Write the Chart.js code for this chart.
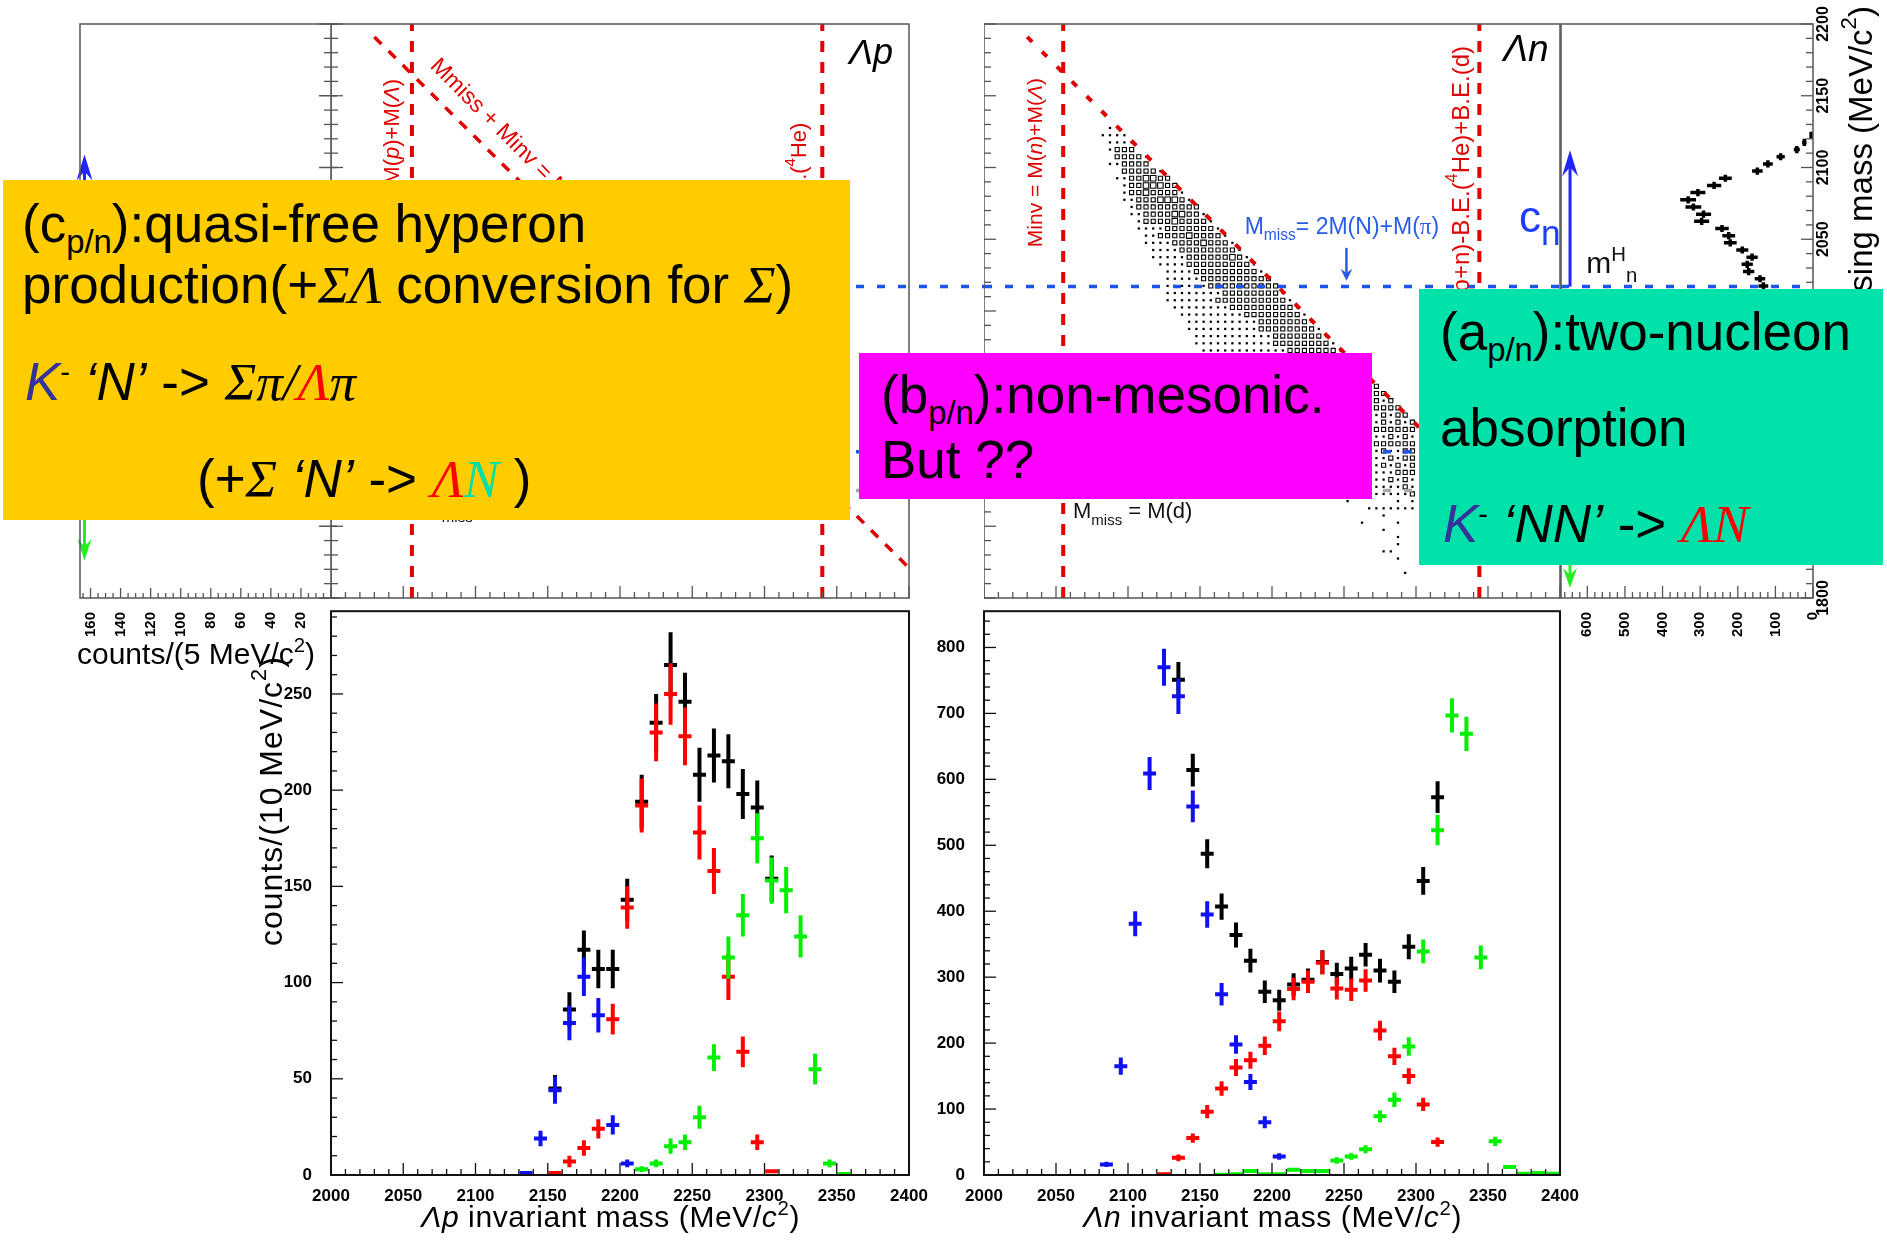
<!DOCTYPE html>
<html>
<head>
<meta charset="utf-8">
<title>Lambda-p / Lambda-n invariant mass</title>
<script src="https://cdn.jsdelivr.net/npm/chart.js@4.4.1/dist/chart.umd.min.js"></script>
<style>
  html, body { margin: 0; background: #fff; }
  #page { position: relative; width: 1887px; height: 1240px; overflow: hidden; background: #fff; }
  .pane { position: absolute; }
  .pane canvas { display: block; }
  .box { position: absolute; }
  .ln { position: absolute; font-family: "Liberation Sans", Arial, sans-serif; font-size: 53px; line-height: 53px; white-space: pre; color: #000; }
  .ln sub { font-size: 0.62em; vertical-align: -11px; line-height: 0; }
  .ln sup { font-size: 0.55em; vertical-align: 18px; line-height: 0; }
  .gk { font-family: "Liberation Serif", "Times New Roman", serif; font-style: italic; }
  .kk { font-style: italic; color: #333399; }
  .it { font-style: italic; }
</style>
</head>
<body>
<div id="page">
  <div class="pane" style="left:0;top:0"><canvas id="cProjL" width="345" height="690"></canvas></div>
  <div class="pane" style="left:331px;top:0"><canvas id="cScatP" width="653" height="600"></canvas></div>
  <div class="pane" style="left:984px;top:0"><canvas id="cScatN" width="577" height="600"></canvas></div>
  <div class="pane" style="left:1548px;top:0"><canvas id="cProjR" width="339" height="690"></canvas></div>
  <div class="pane" style="left:200px;top:590px"><canvas id="cLp" width="740" height="650"></canvas></div>
  <div class="pane" style="left:920px;top:590px"><canvas id="cLn" width="670" height="650"></canvas></div>

  <div class="box" style="left:3px;top:180px;width:847px;height:340px;background:#ffcc00"></div>
  <div class="ln" style="left:22px;top:197px">(c<sub>p/n</sub>):quasi-free hyperon</div>
  <div class="ln" style="left:22px;top:258px">production(+<span class="gk">ΣΛ</span> conversion for <span class="gk">Σ</span>)</div>
  <div class="ln" style="left:25px;top:355px"><span class="kk">K</span><sup>-</sup> <span class="it">‘N’</span> -&gt; <span class="gk">Σπ/<span style="color:#ff0000">Λ</span>π</span></div>
  <div class="ln" style="left:197px;top:452px">(+<span class="gk">Σ</span> <span class="it">‘N’</span> -&gt; <span class="gk" style="color:#ff0000">Λ</span><span class="gk" style="color:#00e0a8">N</span> )</div>

  <div class="box" style="left:859px;top:353px;width:513px;height:146px;background:#ff00ff"></div>
  <div class="ln" style="left:881px;top:368px">(b<sub>p/n</sub>):non-mesonic.</div>
  <div class="ln" style="left:881px;top:433px">But ??</div>

  <div class="box" style="left:1419px;top:289px;width:464px;height:276px;background:#00e2aa"></div>
  <div class="ln" style="left:1440px;top:305px">(a<sub>p/n</sub>):two-nucleon</div>
  <div class="ln" style="left:1440px;top:401px">absorption</div>
  <div class="ln" style="left:1443px;top:497px"><span class="kk">K</span><sup>-</sup> <span class="it">‘NN’</span> -&gt; <span class="gk" style="color:#ff0000">ΛN</span></div>
</div>

<script>
// ---------------- Λp invariant mass, counts / 10 MeV ----------------
const lpTotM = [2155, 2165, 2175, 2185, 2195, 2205, 2215, 2225, 2235, 2245, 2255, 2265, 2275, 2285, 2295, 2305];
const lpTotN = [45, 86, 117, 107, 107, 143, 194, 235, 265, 246, 208, 218, 215, 198, 191, 154];
const lpTotE = [7, 9, 10, 10, 10, 11, 14, 15, 17, 15, 14, 14, 14, 13, 14, 12];
const lpRedM = [2155, 2165, 2175, 2185, 2195, 2205, 2215, 2225, 2235, 2245, 2255, 2265, 2275, 2285, 2295, 2305];
const lpRedN = [1, 7, 14, 24, 81, 139, 192, 230, 250, 228, 178, 158, 103, 64, 17, 2];
const lpRedE = [1, 3, 4, 5, 8, 11, 14, 15, 16, 15, 14, 12, 12, 8, 4, 1];
const lpBluM = [2135, 2145, 2155, 2165, 2175, 2185, 2195, 2205];
const lpBluN = [1, 19, 44, 79, 103, 83, 26, 6];
const lpBluE = [1, 4, 7, 9, 10, 9, 5, 2];
const lpGrnM = [2215, 2225, 2235, 2245, 2255, 2265, 2275, 2285, 2295, 2305, 2315, 2325, 2335, 2345, 2355];
const lpGrnN = [3, 6, 15, 17, 30, 61, 113, 135, 175, 153, 148, 124, 55, 6, 0.5];
const lpGrnE = [1.5, 2, 4, 4, 6, 7, 11, 11, 13, 12, 12, 11, 8, 2, 0.5];

// ---------------- Λn invariant mass, counts / 10 MeV ----------------
const lnTotM = [2135, 2145, 2155, 2165, 2175, 2185, 2195, 2205, 2215, 2225, 2235, 2245, 2255, 2265, 2275, 2285, 2295, 2305, 2315];
const lnTotN = [751, 614, 487, 407, 364, 325, 278, 265, 289, 296, 323, 305, 313, 334, 310, 293, 346, 446, 573];
const lnTotE = [27, 25, 22, 20, 19, 18, 17, 16, 17, 17, 18, 17, 18, 18, 18, 17, 19, 21, 24];
const lnBluM = [2085, 2095, 2105, 2115, 2125, 2135, 2145, 2155, 2165, 2175, 2185, 2195, 2205];
const lnBluN = [16, 165, 381, 609, 770, 726, 559, 395, 274, 198, 141, 80, 28];
const lnBluE = [4, 13, 19, 25, 28, 27, 24, 20, 17, 14, 12, 9, 5];
const lnRedM = [2125, 2135, 2145, 2155, 2165, 2175, 2185, 2195, 2205, 2215, 2225, 2235, 2245, 2255, 2265, 2275, 2285, 2295, 2305, 2315];
const lnRedN = [1, 26, 56, 96, 131, 163, 174, 196, 233, 282, 293, 322, 283, 281, 295, 219, 180, 150, 107, 50];
const lnRedE = [1, 5, 7, 10, 11, 13, 13, 14, 15, 17, 17, 18, 17, 17, 17, 15, 13, 12, 10, 7];
const lnGrnM = [2165, 2175, 2185, 2195, 2205, 2215, 2225, 2235, 2245, 2255, 2265, 2275, 2285, 2295, 2305, 2315, 2325, 2335, 2345, 2355, 2365, 2375, 2385, 2395];
const lnGrnN = [0.5, 1, 6, 1, 1, 8, 6, 6, 22, 28, 39, 89, 114, 195, 339, 523, 697, 669, 330, 51, 12, 2, 3, 2];
const lnGrnE = [0.5, 1, 2, 1, 1, 3, 2, 2, 5, 5, 6, 9, 11, 14, 18, 23, 26, 26, 18, 7, 3, 1.5, 1.5, 1.5];

// ------------- missing-mass projection (Λn), counts / 5 MeV -------------
const projMass = [2122.5, 2117.5, 2112.5, 2107.5, 2102.5, 2097.5, 2092.5, 2087.5, 2082.5, 2077.5, 2072.5,
                  2067.5, 2062.5, 2057.5, 2052.5, 2047.5, 2042.5, 2037.5, 2032.5, 2027.5, 2022.5, 2017.5];
const projCnt = [5, 23, 43, 86, 120, 148, 233, 263, 306, 332, 318, 291, 296, 242, 224, 220, 188, 162, 175, 171, 141, 132];
const projErr = [3, 6, 8, 11, 13, 14, 17, 19, 20, 21, 21, 20, 20, 18, 17, 17, 16, 15, 15, 15, 14, 13];

// 2D Λn scatter: [missing mass row, first invariant-mass cell, box sizes per 5 MeV cell]
const lnCells = [
  [2127.5, 2087.5, '1'],
  [2122.5, 2082.5, '1111'],
  [2117.5, 2087.5, '1111'],
  [2112.5, 2087.5, '1222'],
  [2107.5, 2092.5, '22221'],
  [2102.5, 2087.5, '112222'],
  [2097.5, 2097.5, '222221'],
  [2092.5, 2092.5, '11223322'],
  [2087.5, 2097.5, '12233322'],
  [2082.5, 2097.5, '122322221'],
  [2077.5, 2097.5, '1122233321'],
  [2072.5, 2102.5, '1222222222'],
  [2067.5, 2102.5, '11222233221'],
  [2062.5, 2107.5, '12222322221'],
  [2057.5, 2107.5, '111122222221'],
  [2052.5, 2112.5, '112222322221'],
  [2047.5, 2112.5, '1111222232221'],
  [2042.5, 2117.5, '1111222222221'],
  [2037.5, 2117.5, '11111222222321'],
  [2032.5, 2122.5, '11112222222221'],
  [2027.5, 2127.5, '11112222222221'],
  [2022.5, 2127.5, '111112222222222'],
  [2017.5, 2127.5, '1111112222222222'],
  [2012.5, 2127.5, '11111111222222221'],
  [2007.5, 2127.5, '111111122222222221'],
  [2002.5, 2132.5, '111111112222222221'],
  [1997.5, 2137.5, '111111111222222221'],
  [1992.5, 2142.5, '111111111122222221'],
  [1987.5, 2142.5, '1111111111222222221'],
  [1982.5, 2147.5, '1111111111122222221'],
  [1977.5, 2147.5, '11111111111222222221'],
  [1972.5, 2152.5, '11111111111122222221'],
  [1947.5, 2272.5, '2'],
  [1942.5, 2272.5, '22'],
  [1937.5, 2272.5, '212'],
  [1932.5, 2272.5, '2222'],
  [1927.5, 2272.5, '12122'],
  [1922.5, 2272.5, '121212'],
  [1917.5, 2272.5, '222222'],
  [1912.5, 2272.5, '112121'],
  [1907.5, 2272.5, '222222'],
  [1902.5, 2272.5, '121122'],
  [1897.5, 2272.5, '112122'],
  [1892.5, 2272.5, '121212'],
  [1887.5, 2272.5, '111222'],
  [1882.5, 2272.5, '112121'],
  [1877.5, 2272.5, '111121'],
  [1872.5, 2272.5, '111112'],
  [1867.5, 2252.5, '1000000101'],
  [1862.5, 2252.5, '0001111111'],
  [1857.5, 2252.5, '0000010000'],
  [1852.5, 2252.5, '0010000100'],
  [1847.5, 2252.5, '0000010000'],
  [1842.5, 2252.5, '0000000100'],
  [1837.5, 2252.5, '0000000100'],
  [1832.5, 2252.5, '0000011000'],
  [1827.5, 2252.5, '0000000100'],
  [1817.5, 2252.5, '000000001']
];

// kinematic reference lines (MeV)
const sumMass = 4221;            // Mmiss + Minv = M(K-) + M(4He)
const lpMinvCuts = [2056, 2340];
const lnMinvCuts = [2055, 2344];
const missCuts = [2017, 1902, 1875];

// tick labels
const projLTicks = [20, 40, 60, 80, 100, 120, 140, 160];
const projRTicks = [0, 100, 200, 300, 400, 500, 600];
const massTicks = [1800, 1850, 1900, 1950, 2000, 2050, 2100, 2150, 2200];

const SANS = '"Liberation Sans", Arial, sans-serif';
const SERIF = '"Liberation Serif", "Times New Roman", serif';
const RED = '#e00000';
const BLUE = '#1a56e8';

// ---------------- drawing helpers ----------------
function partFont(p, size) {
  const s = (p.sub || p.sup) ? size * (p.k || 0.68) : size;
  return (p.it ? 'italic ' : '') + s.toFixed(1) + 'px ' + (p.serif ? SERIF : SANS);
}

function drawNote(ctx, chart, n) {
  const a = chart.chartArea;
  let px, py;
  if (n.at) { [px, py] = n.at(a); }
  else { px = chart.scales.x.getPixelForValue(n.x); py = chart.scales.y.getPixelForValue(n.y); }
  ctx.save();
  ctx.translate(px, py);
  if (n.rot) ctx.rotate(n.rot * Math.PI / 180);
  ctx.letterSpacing = (n.ls || 0) + 'px';
  ctx.textBaseline = n.base || 'alphabetic';
  ctx.textAlign = 'left';
  let w = 0;
  n.parts.forEach(p => { ctx.font = partFont(p, n.size); w += ctx.measureText(p.t).width; });
  let x = n.align === 'right' ? -w : n.align === 'center' ? -w / 2 : 0;
  n.parts.forEach(p => {
    ctx.font = partFont(p, n.size);
    ctx.fillStyle = p.c || n.color || '#000';
    const dy = p.sub ? n.size * 0.3 : p.sup ? -n.size * 0.4 : 0;
    ctx.fillText(p.t, x, dy);
    x += ctx.measureText(p.t).width;
  });
  ctx.restore();
}

function drawLine(ctx, chart, l) {
  const xs = chart.scales.x, ys = chart.scales.y;
  const x1 = xs.getPixelForValue(l.x1);
  const x2 = l.toEdge ? chart.width : xs.getPixelForValue(l.x2);
  const y1 = ys.getPixelForValue(l.y1), y2 = ys.getPixelForValue(l.y2);
  ctx.save();
  ctx.strokeStyle = l.color;
  ctx.lineWidth = l.width;
  ctx.setLineDash(l.dash || []);
  ctx.beginPath();
  ctx.moveTo(x1, y1);
  ctx.lineTo(x2, y2);
  ctx.stroke();
  ctx.restore();
}

function drawArrow(ctx, chart, r) {
  const x = chart.scales.x.getPixelForValue(r.x);
  const y1 = chart.scales.y.getPixelForValue(r.y1), y2 = chart.scales.y.getPixelForValue(r.y2);
  const dir = Math.sign(y2 - y1);
  ctx.save();
  ctx.strokeStyle = r.color; ctx.fillStyle = r.color; ctx.lineWidth = r.width;
  ctx.beginPath(); ctx.moveTo(x, y1); ctx.lineTo(x, y2 - dir * r.head * 0.6); ctx.stroke();
  ctx.beginPath();
  ctx.moveTo(x, y2);
  ctx.lineTo(x - r.hw, y2 - dir * r.head);
  ctx.lineTo(x, y2 - dir * r.head * 0.65);
  ctx.lineTo(x + r.hw, y2 - dir * r.head);
  ctx.closePath(); ctx.fill();
  ctx.restore();
}

// error-bar crosses for datasets carrying errX / errY
const errBars = {
  id: 'errBars',
  afterDatasetsDraw(chart) {
    const {ctx, chartArea: a} = chart;
    const xs = chart.scales.x, ys = chart.scales.y;
    ctx.save();
    ctx.beginPath(); ctx.rect(a.left, a.top, a.right - a.left, a.bottom - a.top); ctx.clip();
    chart.data.datasets.forEach(ds => {
      if (ds.errX == null) return;
      ctx.strokeStyle = ds.barColor;
      ctx.lineWidth = ds.barWidth;
      ds.data.forEach((d, i) => {
        const ex = Array.isArray(ds.errX) ? ds.errX[i] : ds.errX;
        const ey = Array.isArray(ds.errY) ? ds.errY[i] : ds.errY;
        const cx = xs.getPixelForValue(d.x), cy = ys.getPixelForValue(d.y);
        ctx.beginPath();
        ctx.moveTo(xs.getPixelForValue(d.x - ex), cy);
        ctx.lineTo(xs.getPixelForValue(d.x + ex), cy);
        ctx.moveTo(cx, ys.getPixelForValue(d.y - ey));
        ctx.lineTo(cx, ys.getPixelForValue(d.y + ey));
        ctx.stroke();
      });
    });
    ctx.restore();
  }
};

function notesPlugin(cfg) {
  return {
    id: 'notes',
    afterDatasetsDraw(chart) {
      const ctx = chart.ctx;
      (cfg.lines || []).forEach(l => drawLine(ctx, chart, l));
      (cfg.arrows || []).forEach(r => drawArrow(ctx, chart, r));
      (cfg.texts || []).forEach(n => drawNote(ctx, chart, n));
    }
  };
}

// ROOT-style frame with inward ticks
function axesPlugin(cfg) {
  return {
    id: 'rootAxes',
    afterDatasetsDraw(chart) {
      const {ctx, chartArea: a} = chart;
      ctx.save();
      ctx.strokeStyle = cfg.color;
      ctx.lineWidth = cfg.width;
      ctx.strokeRect(a.left, a.top, a.right - a.left, a.bottom - a.top);
      ctx.lineWidth = cfg.tickWidth || 1.3;
      (cfg.ticks || []).forEach(t => {
        const sc = chart.scales[t.axis];
        for (let v = Math.ceil(sc.min / t.minor) * t.minor; v <= sc.max + 1e-6; v += t.minor) {
          const maj = Math.abs(v / t.major - Math.round(v / t.major)) < 1e-6;
          const len = maj ? t.majLen : t.minLen;
          const p = sc.getPixelForValue(v);
          ctx.beginPath();
          if (t.side === 'bottom') { ctx.moveTo(p, a.bottom); ctx.lineTo(p, a.bottom - len); }
          else if (t.side === 'left') { ctx.moveTo(a.left, p); ctx.lineTo(a.left + len, p); }
          else {
            ctx.moveTo(a.right, p); ctx.lineTo(a.right - len, p);
            if (t.cross && maj) { ctx.moveTo(a.right, p); ctx.lineTo(a.right + len * 0.5, p); }
          }
          ctx.stroke();
        }
      });
      ctx.fillStyle = '#000';
      (cfg.rotLabels || []).forEach(r => {
        ctx.font = 'bold ' + r.size + 'px ' + SANS;
        r.values.forEach(v => {
          ctx.save();
          if (r.axis === 'x') {
            ctx.translate(chart.scales.x.getPixelForValue(v), a.bottom + r.off);
            ctx.rotate(-Math.PI / 2);
            ctx.textAlign = 'right';
          } else {
            ctx.translate(a.right + r.off, chart.scales.y.getPixelForValue(v));
            ctx.rotate(-Math.PI / 2);
            ctx.textAlign = 'center';
          }
          ctx.textBaseline = 'middle';
          ctx.fillText(String(v), 0, 0);
          ctx.restore();
        });
      });
      ctx.restore();
    }
  };
}

function makeChart(id, o) {
  return new Chart(document.getElementById(id), {
    type: 'scatter',
    data: { datasets: o.datasets || [] },
    options: {
      responsive: false, animation: false, events: [], devicePixelRatio: 1,
      layout: { padding: o.pad, autoPadding: false },
      scales: { x: o.x, y: o.y },
      plugins: { legend: { display: false }, tooltip: { enabled: false } }
    },
    plugins: [errBars, notesPlugin(o.notes || {}), axesPlugin(o.axes || {})]
  });
}

function hidden(min, max, reverse) {
  return { type: 'linear', display: false, min, max, reverse: !!reverse };
}

const tickFont = { family: SANS, size: 17, weight: 'bold' };
function massAxis() {
  return {
    type: 'linear', min: 2000, max: 2400,
    afterFit: s => { s.height = 65; },
    ticks: { stepSize: 50, includeBounds: false, color: '#000', font: tickFont, padding: 3,
             maxRotation: 0, autoSkip: false, callback: v => String(v) },
    grid: { display: false }, border: { display: false }
  };
}
function countAxis(max, step, w) {
  return {
    type: 'linear', min: 0, max,
    afterFit: s => { s.width = w; },
    ticks: { stepSize: step, includeBounds: false, color: '#000', font: tickFont, padding: 11,
             autoSkip: false, callback: v => String(v) },
    grid: { display: false }, border: { display: false }
  };
}
function series(m, n, e, color) {
  return { data: m.map((x, i) => ({ x, y: n[i] })), errX: 4.5, errY: e,
           barColor: color, barWidth: 4, pointRadius: 0 };
}
function cells(rows) {
  const pts = [];
  rows.forEach(([y, x0, s]) => {
    [...s].forEach((c, i) => { if (c !== '0') pts.push({ x: x0 + 5 * i, y, s: +c }); });
  });
  return pts;
}

const redV = { color: RED, width: 4, dash: [11, 10] };
const blueH = { color: BLUE, width: 3.5, dash: [8, 13] };
const grayH = { color: '#a8a8a8', width: 3.5, dash: [8, 13] };
const topTicks = [
  { axis: 'x', side: 'bottom', minor: 10, major: 50, minLen: 6, majLen: 12 },
  { axis: 'y', side: 'left', minor: 10, major: 50, minLen: 7, majLen: 12 }
];
const mmissLabel = [{ t: 'M' }, { t: 'miss', sub: true }, { t: ' = M(d)' }];

// ---------------- left projection (Λp missing mass) ----------------
makeChart('cProjL', {
  pad: { left: 80, top: 24, right: 14, bottom: 92 },
  x: hidden(0, 167, true), y: hidden(1800, 2200),
  notes: {
    arrows: [
      { x: 164, y1: 2017, y2: 2109, color: '#2222ff', width: 3, head: 26, hw: 8 },
      { x: 164, y1: 1876, y2: 1826, color: '#22ee22', width: 3, head: 22, hw: 7 }
    ],
    texts: [
      { at: a => [a.left - 3, a.bottom + 66], size: 30, ls: 0,
        parts: [{ t: 'counts/(5 MeV/c' }, { t: '2', sup: true }, { t: ')' }] }
    ]
  },
  axes: {
    color: '#555', width: 1.5,
    ticks: [
      { axis: 'y', side: 'right', minor: 10, major: 50, minLen: 7, majLen: 12, cross: true },
      { axis: 'x', side: 'bottom', minor: 5, major: 20, minLen: 5, majLen: 10 }
    ],
    rotLabels: [{ axis: 'x', values: projLTicks, off: 14, size: 15 }]
  }
});

// ---------------- Λp scatter ----------------
makeChart('cScatP', {
  pad: { left: 0, top: 24, right: 75, bottom: 2 },
  x: hidden(2000, 2400), y: hidden(1800, 2200),
  notes: {
    lines: [
      { x1: lpMinvCuts[0], y1: 1800, x2: lpMinvCuts[0], y2: 2200, ...redV },
      { x1: lpMinvCuts[1], y1: 1800, x2: lpMinvCuts[1], y2: 2200, ...redV },
      { x1: 2030, y1: sumMass - 2030, x2: 2400, y2: sumMass - 2400, color: RED, width: 3.5, dash: [10, 10] },
      { x1: 2000, y1: missCuts[0], x2: 2400, y2: missCuts[0], toEdge: true, ...blueH },
      { x1: 2000, y1: missCuts[1], x2: 2400, y2: missCuts[1], ...blueH },
      { x1: 2000, y1: missCuts[2], x2: 2400, y2: missCuts[2], ...grayH }
    ],
    texts: [
      { x: 2043, y: 2161.7, rot: -90, align: 'right', base: 'middle', size: 22, color: RED,
        parts: [{ t: 'Minv = M(' }, { t: 'p', it: true }, { t: ')+M(' }, { t: 'Λ', it: true }, { t: ')' }] },
      { x: 2324.6, y: 2131.3, rot: -90, align: 'right', base: 'middle', size: 22, color: RED,
        parts: [{ t: 'Minv = M(K' }, { t: '-', sup: true }, { t: ')+M(p+n)-B.E.(' }, { t: '4', sup: true }, { t: 'He)' }] },
      { x: 2068, y: 2170, rot: 45, size: 23, color: RED,
        parts: [{ t: 'Mmiss + Minv = M(K' }, { t: '-', sup: true }, { t: ')+M(' }, { t: '4', sup: true }, { t: 'He)' }] },
      { x: 2389, y: 2172, align: 'right', size: 36, parts: [{ t: 'Λp', it: true }] },
      { x: 2064, y: 1857.8, size: 22, color: '#111', parts: mmissLabel }
    ]
  },
  axes: { color: '#555', width: 1.5, ticks: topTicks }
});

// ---------------- Λn scatter ----------------
const cellSize = [0, 1.6, 2.9, 3.9];
makeChart('cScatN', {
  pad: { left: 0, top: 24, right: 1, bottom: 2 },
  x: hidden(2000, 2400), y: hidden(1800, 2200),
  datasets: [{
    data: cells(lnCells),
    pointStyle: 'rect',
    pointRadius: c => cellSize[c.raw.s],
    pointBackgroundColor: c => c.raw.s >= 2 ? 'rgba(0,0,0,0)' : '#000',
    pointBorderColor: '#000',
    pointBorderWidth: c => c.raw.s >= 2 ? 1.1 : 0
  }],
  notes: {
    lines: [
      { x1: lnMinvCuts[0], y1: 1800, x2: lnMinvCuts[0], y2: 2200, ...redV },
      { x1: lnMinvCuts[1], y1: 1800, x2: lnMinvCuts[1], y2: 2200, ...redV },
      { x1: 2030, y1: sumMass - 2030, x2: 2400, y2: sumMass - 2400, color: RED, width: 4, dash: [7, 14] },
      { x1: 2000, y1: missCuts[0], x2: 2400, y2: missCuts[0], ...blueH },
      { x1: 2000, y1: missCuts[1], x2: 2400, y2: missCuts[1], ...blueH },
      { x1: 2000, y1: missCuts[2], x2: 2400, y2: missCuts[2], ...grayH }
    ],
    arrows: [{ x: 2251.7, y1: 2044, y2: 2021, color: '#2a5ce6', width: 2.5, head: 12, hw: 6 }],
    texts: [
      { x: 2036.5, y: 2162.4, rot: -90, align: 'right', base: 'middle', size: 21, color: RED,
        parts: [{ t: 'Minv = M(' }, { t: 'n', it: true }, { t: ')+M(' }, { t: 'Λ', it: true }, { t: ')' }] },
      { x: 2332.3, y: 2184.7, rot: -90, align: 'right', base: 'middle', size: 24, color: RED,
        parts: [{ t: 'Minv = M(K' }, { t: '-', sup: true }, { t: ')+M(p+n)-B.E.(' }, { t: '4', sup: true }, { t: 'He)+B.E.(d)' }] },
      { x: 2181, y: 2054, size: 23, color: '#2a5ce6',
        parts: [{ t: 'M' }, { t: 'miss', sub: true }, { t: '= 2M(N)+M(' }, { t: 'π', serif: true }, { t: ')' }] },
      { x: 2392, y: 2174, align: 'right', size: 37, parts: [{ t: 'Λn', it: true }] },
      { x: 2061.8, y: 1855.7, size: 22, color: '#111', parts: mmissLabel },
      { x: 2371.5, y: 2055.4, size: 44, color: '#1e3cff', parts: [{ t: 'c' }, { t: 'n', sub: true, k: 0.8 }] }
    ]
  },
  axes: { color: '#555', width: 1.5, ticks: topTicks }
});

// ---------------- right projection (Λn missing mass) ----------------
makeChart('cProjR', {
  pad: { left: 13, top: 24, right: 74, bottom: 92 },
  x: hidden(0, 670, true), y: hidden(1800, 2200),
  datasets: [{
    data: projMass.map((m, i) => ({ x: projCnt[i], y: m })),
    errX: projErr, errY: 2.5, barColor: '#000', barWidth: 3.5, pointRadius: 0
  }],
  notes: {
    lines: [{ x1: 670, y1: missCuts[0], x2: 0, y2: missCuts[0], ...blueH }],
    arrows: [
      { x: 646, y1: 2017, y2: 2112, color: '#2222ff', width: 3, head: 26, hw: 8 },
      { x: 646, y1: 1876, y2: 1807, color: '#22ee22', width: 3, head: 20, hw: 7 }
    ],
    texts: [
      { x: 603, y: 2026.5, size: 30, color: '#111',
        parts: [{ t: 'm' }, { t: 'H', sup: true }, { t: 'n', sub: true }] },
      { at: a => [a.right + 50, 6], rot: -90, align: 'right', base: 'middle', size: 33, ls: 0,
        parts: [{ t: 'missing mass (MeV/c' }, { t: '2', sup: true }, { t: ')' }] }
    ]
  },
  axes: {
    color: '#555', width: 1.5,
    ticks: [
      { axis: 'y', side: 'right', minor: 10, major: 50, minLen: 7, majLen: 12 },
      { axis: 'x', side: 'bottom', minor: 20, major: 100, minLen: 6, majLen: 12 }
    ],
    rotLabels: [
      { axis: 'x', values: projRTicks, off: 14, size: 15 },
      { axis: 'y', values: massTicks, off: 11, size: 16 }
    ]
  }
});

// ---------------- Λp invariant mass ----------------
makeChart('cLp', {
  pad: { left: 0, top: 8, right: 31, bottom: 0 },
  x: massAxis(), y: countAxis(293, 50, 131),
  datasets: [
    series(lpTotM, lpTotN, lpTotE, '#000000'),
    series(lpRedM, lpRedN, lpRedE, '#ff0000'),
    series(lpBluM, lpBluN, lpBluE, '#1010f0'),
    series(lpGrnM, lpGrnN, lpGrnE, '#00f000')
  ],
  notes: {
    texts: [
      { at: a => [a.left - 58, a.top + 45], rot: -90, align: 'right', base: 'middle', size: 32, ls: 1,
        parts: [{ t: 'counts/(10 MeV/c' }, { t: '2', sup: true }, { t: ')' }] },
      { at: a => [a.right - 109, a.bottom + 52], align: 'right', size: 30, ls: 0.6,
        parts: [{ t: 'Λp', it: true }, { t: ' invariant mass (MeV/' }, { t: 'c', it: true }, { t: '2', sup: true }, { t: ')' }] }
    ]
  },
  axes: {
    color: '#111', width: 2,
    ticks: [
      { axis: 'x', side: 'bottom', minor: 10, major: 50, minLen: 6, majLen: 12 },
      { axis: 'y', side: 'left', minor: 10, major: 50, minLen: 6, majLen: 12 }
    ]
  }
});

// ---------------- Λn invariant mass ----------------
makeChart('cLn', {
  pad: { left: 0, top: 8, right: 30, bottom: 0 },
  x: massAxis(), y: countAxis(855, 100, 64),
  datasets: [
    series(lnTotM, lnTotN, lnTotE, '#000000'),
    series(lnRedM, lnRedN, lnRedE, '#ff0000'),
    series(lnBluM, lnBluN, lnBluE, '#1010f0'),
    series(lnGrnM, lnGrnN, lnGrnE, '#00f000')
  ],
  notes: {
    texts: [
      { at: a => [a.right - 98, a.bottom + 52], align: 'right', size: 30, ls: 0.6,
        parts: [{ t: 'Λn', it: true }, { t: ' invariant mass (MeV/' }, { t: 'c', it: true }, { t: '2', sup: true }, { t: ')' }] }
    ]
  },
  axes: {
    color: '#111', width: 2,
    ticks: [
      { axis: 'x', side: 'bottom', minor: 10, major: 50, minLen: 6, majLen: 12 },
      { axis: 'y', side: 'left', minor: 20, major: 100, minLen: 6, majLen: 12 }
    ]
  }
});
</script>
</body>
</html>
